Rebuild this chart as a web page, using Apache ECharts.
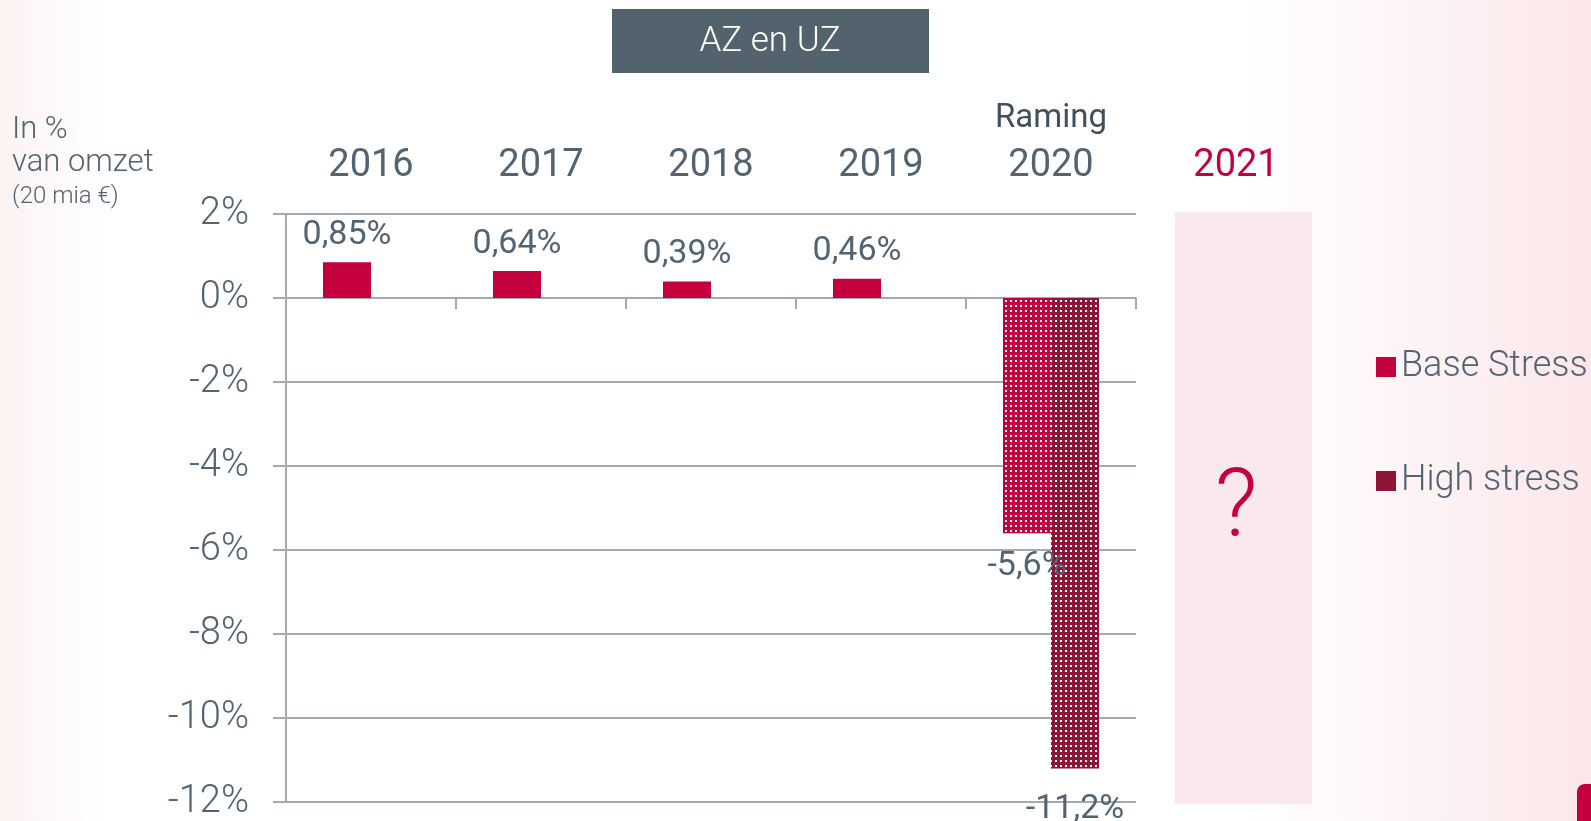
<!DOCTYPE html>
<html>
<head>
<meta charset="utf-8">
<title>AZ en UZ</title>
<script src="https://cdn.jsdelivr.net/npm/echarts@6/dist/echarts.min.js"></script>
<style>
  html, body { margin: 0; padding: 0; background: #fff; }
  #chart { width: 1591px; height: 821px; }
</style>
</head>
<body>
<div id="chart"></div>
<script>
  // data
  var categories = ['2016', '2017', '2018', '2019', 'Raming\n2020'];
  var baseStress = [0.85, 0.64, 0.39, 0.46, -5.6];
  var highStress = [null, null, null, null, -11.2];
  var seriesNames = ['Base Stress', 'High stress'];
  var yMin = -12, yMax = 2, yStep = 2;
  // years that are only projected (2020) get the dotted fill
  var dottedIdx = [4];

  var textColor = '#526371';
  var gridColor = '#a3abb1';
  var crimson = '#c4003f';
  var darkRed = '#8c1538';
  var font = 'Roboto';

  var dots = {
    symbol: 'rect',
    symbolSize: 1,
    dashArrayX: [2, 3],
    dashArrayY: [2, 3],
    rotation: 0,
    color: '#ffffff'
  };

  function fmt(v) {
    return String(v).replace('.', ',') + '%';
  }

  function toItems(arr, negDist) {
    return arr.map(function (v, i) {
      if (v === null) return v;
      var item = { value: v };
      if (dottedIdx.indexOf(i) >= 0) item.itemStyle = { decal: dots };
      if (v < 0) item.label = { position: 'bottom', distance: negDist };
      return item;
    });
  }

  var chart = echarts.init(document.getElementById('chart'));

  chart.setOption({
    animation: false,
    backgroundColor: {
      type: 'linear', x: 0, y: 0, x2: 1, y2: 0,
      colorStops: [
        { offset: 0, color: '#fcf3f3' },
        { offset: 0.07, color: '#ffffff' },
        { offset: 0.78, color: '#ffffff' },
        { offset: 1, color: '#fbe7ea' }
      ]
    },
    grid: { left: 286, right: 455, top: 214, bottom: 19, containLabel: false },
    legend: {
      orient: 'vertical',
      left: 1371,
      top: 344,
      itemWidth: 20,
      itemHeight: 20,
      itemGap: 78,
      icon: 'rect',
      data: seriesNames,
      textStyle: { color: textColor, fontSize: 36, fontFamily: font, fontWeight: 300 }
    },
    xAxis: [
      {
        type: 'category',
        data: categories,
        position: 'bottom',
        axisLine: { onZero: true, lineStyle: { color: gridColor, width: 2 } },
        axisTick: { show: true, length: 11, lineStyle: { color: gridColor, width: 2 } },
        axisLabel: { show: false },
        splitLine: { show: false }
      },
      {
        type: 'category',
        data: categories,
        position: 'top',
        axisLine: { show: false, onZero: false },
        axisTick: { show: false },
        axisLabel: {
          margin: 25,
          formatter: function (v) {
            var parts = v.split('\n');
            if (parts.length > 1) return '{s|' + parts[0] + '}\n{y|' + parts[1] + '}';
            return '{y|' + v + '}';
          },
          rich: {
            s: { color: '#3f505c', fontSize: 33, fontFamily: font, lineHeight: 48 },
            y: { color: textColor, fontSize: 38, fontFamily: font, lineHeight: 46 }
          }
        }
      }
    ],
    yAxis: {
      type: 'value',
      min: yMin,
      max: yMax,
      interval: yStep,
      axisLine: { show: true, lineStyle: { color: gridColor, width: 2 } },
      axisTick: { show: true, length: 13, lineStyle: { color: gridColor, width: 2 } },
      splitLine: { lineStyle: { color: gridColor, width: 2 } },
      axisLabel: {
        margin: 37,
        color: textColor,
        fontSize: 38,
        fontFamily: font,
        fontWeight: 300,
        formatter: function (v) { return v + '%'; }
      }
    },
    series: [
      {
        name: seriesNames[0],
        type: 'bar',
        barWidth: 48,
        barGap: '0%',
        itemStyle: { color: crimson },
        label: {
          show: true,
          position: 'top',
          distance: 10,
          color: textColor,
          fontSize: 34,
          fontFamily: font,
          formatter: function (p) { return fmt(p.value); }
        },
        data: toItems(baseStress, 16)
      },
      {
        name: seriesNames[1],
        type: 'bar',
        barWidth: 48,
        barGap: '0%',
        itemStyle: { color: darkRed },
        label: {
          show: true,
          position: 'bottom',
          color: textColor,
          fontSize: 34,
          fontFamily: font,
          formatter: function (p) { return fmt(p.value); }
        },
        data: toItems(highStress, 24)
      }
    ],
    graphic: [
      {
        type: 'group',
        left: 612,
        top: 9,
        children: [
          { type: 'rect', shape: { x: 0, y: 0, width: 317, height: 64 }, style: { fill: '#52636e' } },
          {
            type: 'text', x: 158, y: 33,
            style: { text: 'AZ en UZ', fill: '#ffffff', fontSize: 35, fontFamily: font, fontWeight: 300, align: 'center', verticalAlign: 'middle' }
          }
        ]
      },
      {
        type: 'text', left: 12, top: 115,
        style: { text: 'In %', fill: textColor, fontSize: 31, fontFamily: font, fontWeight: 300 }
      },
      {
        type: 'text', left: 12, top: 148,
        style: { text: 'van omzet', fill: textColor, fontSize: 31, fontFamily: font, fontWeight: 300 }
      },
      {
        type: 'text', left: 12, top: 185,
        style: { text: '(20 mia €)', fill: textColor, fontSize: 24, fontFamily: font, fontWeight: 300 }
      },
      {
        type: 'rect', left: 1175, top: 212,
        shape: { width: 137, height: 592 },
        style: { fill: '#f9e8ee' }
      },
      {
        type: 'text', x: 1236, y: 166,
        style: { text: '2021', fill: crimson, fontSize: 38, fontFamily: font, align: 'center', verticalAlign: 'middle' }
      },
      {
        type: 'text', x: 1236, y: 512,
        style: { text: '?', fill: crimson, fontSize: 94, fontFamily: font, fontWeight: 300, align: 'center', verticalAlign: 'middle' }
      },
      {
        type: 'rect', left: 1577, top: 784,
        shape: { width: 30, height: 60, r: 8 },
        style: { fill: crimson }
      }
    ]
  });

  window.addEventListener('resize', function () {
    chart.resize();
  });
</script>
</body>
</html>
